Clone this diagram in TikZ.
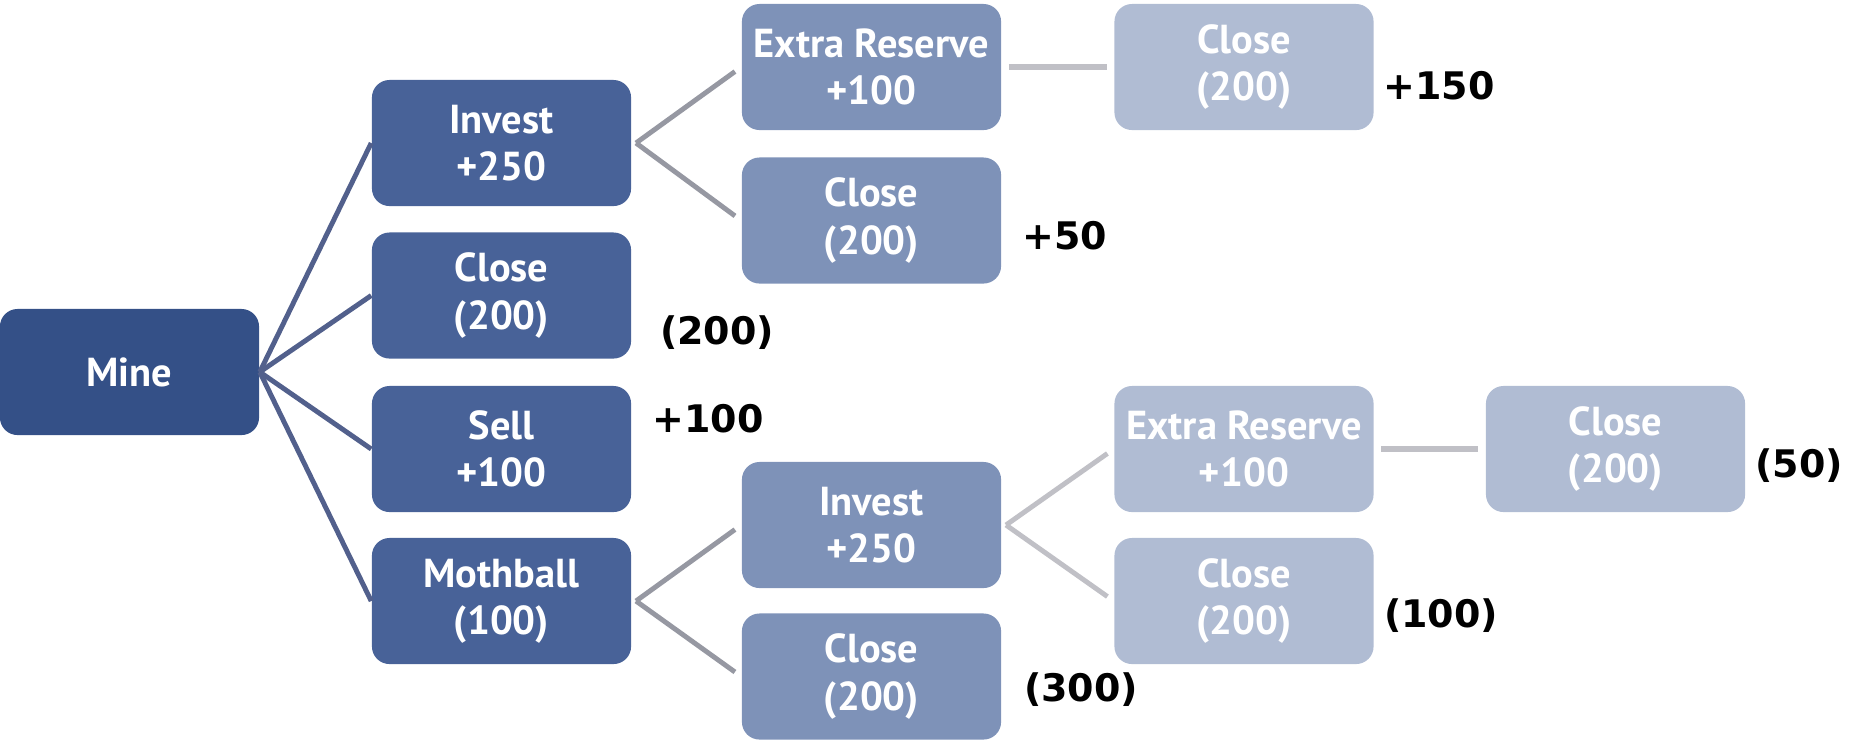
\documentclass[tikz,border=0pt]{standalone}
\usepackage{fontspec}
\setmainfont{PT Sans}
\newfontfamily\valfont{DejaVu Sans}
\definecolor{MineBlue}{RGB}{52,80,135}
\definecolor{LevelOne}{RGB}{72,98,152}
\definecolor{LevelTwo}{RGB}{126,146,184}
\definecolor{LevelThree}{RGB}{176,188,211}
\definecolor{LineBlue}{RGB}{82,96,140}
\definecolor{LineGray}{RGB}{150,152,162}
\definecolor{LineLight}{RGB}{192,192,198}

\begin{document}
\begin{tikzpicture}[x=0.01cm,y=-0.01cm,
  box/.style={rounded corners=5pt,minimum width=2.59cm,minimum height=1.26cm,inner sep=0pt,
    text=white,font=\fontsize{11.5}{13.4}\selectfont\bfseries,align=center},
  val/.style={font=\fontsize{10.8}{13}\selectfont\valfont\bfseries,inner sep=0pt}]
\useasboundingbox (0,0) rectangle (1849,741);
% root and first moves
\node[box,fill=MineBlue] (mine) at (129.5,372) {Mine};
\node[box,fill=LevelOne] (investA) at (501.5,143) {Invest\\+250};
\node[box,fill=LevelOne] (closeA) at (501.5,295.5) {Close\\(200)};
\node[box,fill=LevelOne] (sell) at (501.5,449) {Sell\\+100};
\node[box,fill=LevelOne] (mothball) at (501.5,601) {Mothball\\(100)};
% second moves
\node[box,fill=LevelTwo] (reserveA) at (871.5,67) {Extra Reserve\\+100};
\node[box,fill=LevelTwo] (closeB) at (871.5,220.5) {Close\\(200)};
\node[box,fill=LevelTwo] (investB) at (871.5,525) {Invest\\+250};
\node[box,fill=LevelTwo] (closeC) at (871.5,676.5) {Close\\(200)};
% third and fourth moves
\node[box,fill=LevelThree] (closeD) at (1244,67) {Close\\(200)};
\node[box,fill=LevelThree] (reserveB) at (1244,449) {Extra Reserve\\+100};
\node[box,fill=LevelThree] (closeE) at (1244,601) {Close\\(200)};
\node[box,fill=LevelThree] (closeF) at (1615.5,449) {Close\\(200)};

% fork points just right of the parents
\coordinate (forkA) at ([xshift=1.2pt]investA.east);
\coordinate (forkB) at ([xshift=1.2pt]mothball.east);
\coordinate (forkC) at ([xshift=1.2pt]investB.east);

\foreach \kid in {investA,closeA,sell,mothball}
  \draw[LineBlue,line width=1.4pt] (mine.east) -- (\kid.west);
\foreach \up/\kid in {forkA/reserveA,forkA/closeB,forkB/investB,forkB/closeC}
  \draw[LineGray,line width=1.4pt,shorten >=2.2pt] (\up) -- (\kid.west);
\foreach \up/\kid in {forkC/reserveB,forkC/closeE}
  \draw[LineLight,line width=1.4pt,shorten >=2.2pt] (\up) -- (\kid.west);
\draw[LineLight,line width=1.5pt,shorten <=2pt,shorten >=2pt] (reserveA.east) -- (closeD.west);
\draw[LineLight,line width=1.5pt,shorten <=2pt,shorten >=2pt] (reserveB.east) -- (closeF.west);

% payoffs
\node[val] (payA) at (1439,86) {+150};
\node[val] (payB) at (1065,236) {+50};
\node[val] (payC) at (717,333) {(200)};
\node[val] (payD) at (708,419) {+100};
\node[val] (payE) at (1799,466) {(50)};
\node[val] (payF) at (1441,616) {(100)};
\node[val] (payG) at (1081,690) {(300)};
\end{tikzpicture}
\end{document}
